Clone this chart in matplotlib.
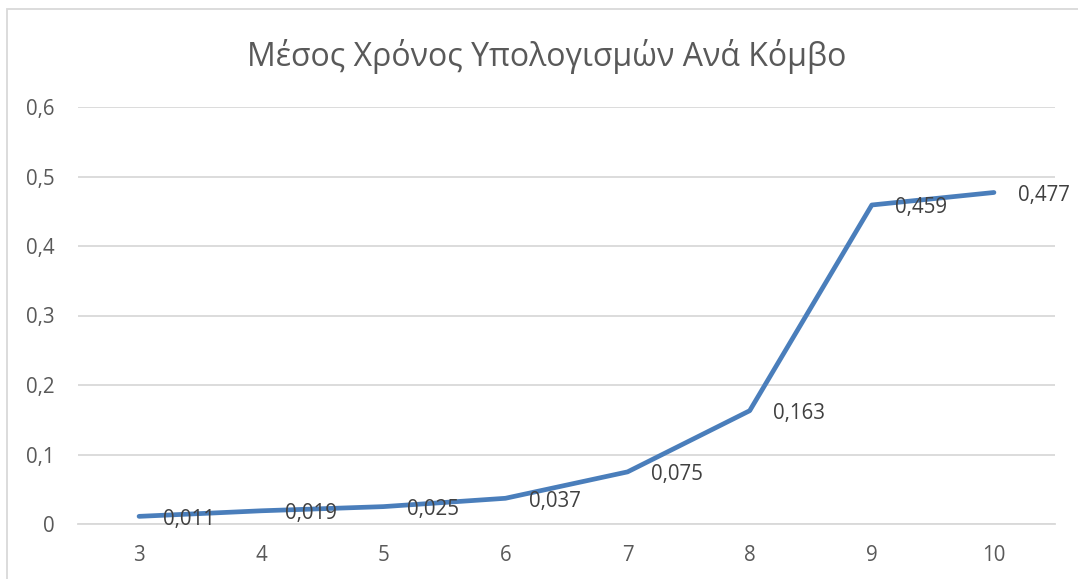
import matplotlib
matplotlib.use("Agg")
import matplotlib.pyplot as plt
from matplotlib.patches import Rectangle

categories = ["3", "4", "5", "6", "7", "8", "9", "10"]
values = [0.011, 0.019, 0.025, 0.037, 0.075, 0.163, 0.459, 0.477]
y_ticks = [0, 0.1, 0.2, 0.3, 0.4, 0.5, 0.6]
y_tick_labels = ["0", "0,1", "0,2", "0,3", "0,4", "0,5", "0,6"]
title = "Μέσος Χρόνος Υπολογισμών Ανά Κόμβο"

plt.rcParams['font.family'] = ['Open Sans', 'DejaVu Sans']

W, H = 1078, 579
fig = plt.figure(figsize=(W / 100, H / 100), dpi=100)
ax = fig.add_axes([78 / W, 1 - 524 / H, (1055 - 78) / W, (524 - 107) / H])

x = list(range(len(categories)))
ax.plot(x, values, color="#4A7EBB", linewidth=3.4, solid_capstyle="round", zorder=3)
for xi, v in zip(x, values):
    ax.annotate(f"{v:.3f}".replace(".", ","), (xi, v), xytext=(17, -2),
                textcoords="offset points", ha="left", va="center",
                fontsize=14.8, color="#404040", zorder=4)

ax.set_xlim(-0.5, len(categories) - 0.5)
ax.set_ylim(0, 0.6)
ax.set_xticks(x)
ax.set_xticklabels(categories)
ax.set_yticks(y_ticks)
ax.set_yticklabels(y_tick_labels)
ax.tick_params(axis="both", length=0, labelsize=14.8, colors="#595959")
ax.tick_params(axis="x", pad=15)
ax.tick_params(axis="y", pad=17)
ax.grid(axis="y", color="#D9D9D9", linewidth=1.3)
ax.set_axisbelow(True)
for s in ["top", "right", "left"]:
    ax.spines[s].set_visible(False)
ax.spines["bottom"].set_color("#D9D9D9")
ax.spines["bottom"].set_linewidth(1.3)

fig.text((243 + 850) / 2 / W, 1 - 56 / H, title, ha="center", va="center",
         fontsize=23, color="#595959")

fig.patches.append(Rectangle((7 / W, -0.1), 1.2, 1 - 9 / H + 0.1,
                             transform=fig.transFigure, fill=False,
                             edgecolor="#D9D9D9", linewidth=1.3))

fig.savefig("out.png", dpi=100)
